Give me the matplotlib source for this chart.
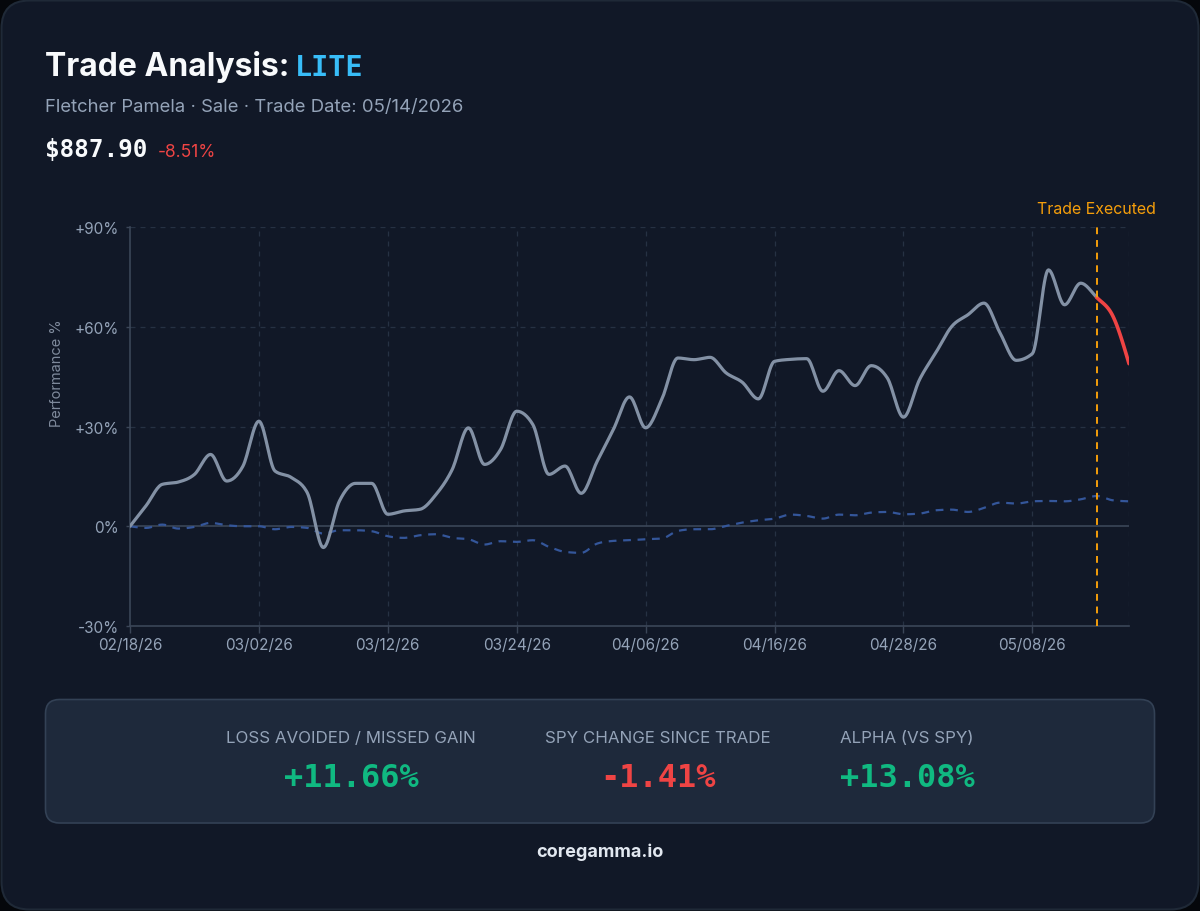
import numpy as np
import matplotlib.pyplot as plt
from matplotlib.patches import FancyBboxPatch

# trading-day index -> performance since 02/18/26 (%)
lite_pct = [0.0, 6.2, 12.6, 13.3, 15.6, 21.6, 13.6, 18.0, 31.6, 16.6,
            14.7, 10.1, -6.4, 7.6, 12.9, 12.9, 3.6, 4.6, 5.1, 9.6,
            17.1, 29.6, 18.6, 23.1, 34.6, 30.6, 15.6, 18.1, 9.9, 19.6,
            29.1, 38.9, 29.6, 38.1, 50.6, 50.1, 50.8, 46.1, 43.3, 38.3,
            49.6, 50.2, 50.4, 40.6, 46.8, 42.3, 48.3, 44.6, 32.8, 44.1,
            52.1, 60.1, 63.6, 67.1, 58.1, 49.9, 51.9, 77.1, 66.6, 73.1,
            68.8, 63.2, 48.9]
spy_pct = [0.0, -0.5, 0.5, -0.7, -0.2, 1.0, 0.3, 0.0, 0.0, -0.9,
           -0.2, -0.5, -2.2, -1.2, -1.2, -1.5, -3.0, -3.5, -2.7, -2.4,
           -3.5, -3.9, -5.5, -4.5, -4.7, -4.2, -6.2, -7.7, -8.0, -5.2,
           -4.4, -4.2, -3.9, -3.7, -1.4, -0.9, -0.9, 0.1, 1.1, 1.8,
           2.3, 3.5, 3.1, 2.3, 3.5, 3.3, 4.1, 4.3, 3.6, 3.8,
           4.8, 5.0, 4.3, 5.5, 7.1, 6.8, 7.5, 7.6, 7.5, 8.1,
           9.1, 7.8, 7.5]
tick_idx = [0, 8, 16, 24, 32, 40, 48, 56]
tick_labels = ['02/18/26', '03/02/26', '03/12/26', '03/24/26',
               '04/06/26', '04/16/26', '04/28/26', '05/08/26']
trade_idx = 60
y_ticks = [-30, 0, 30, 60, 90]
y_labels = ['-30%', '0%', '+30%', '+60%', '+90%']

stat_labels = ['LOSS AVOIDED / MISSED GAIN', 'SPY CHANGE SINCE TRADE', 'ALPHA (VS SPY)']
stat_values = ['+11.66%', '-1.41%', '+13.08%']
stat_colors = ['#10b981', '#ef4444', '#10b981']

BG = '#111827'
MUTED = '#94a3b8'
GRID = '#263143'
AXIS = '#3b4658'
MONO = 'DejaVu Sans Mono'
SANS = 'Inter'


def smooth(xs, ys, steps=16):
    # monotone cubic like d3 curveMonotoneX, used only to draw the path
    xs = np.asarray(xs, float)
    ys = np.asarray(ys, float)
    h = np.diff(xs)
    s = np.diff(ys) / h
    m = np.empty_like(ys)
    for k in range(1, len(ys) - 1):
        p = (s[k - 1] * h[k] + s[k] * h[k - 1]) / (h[k - 1] + h[k])
        m[k] = (np.sign(s[k - 1]) + np.sign(s[k])) * min(abs(s[k - 1]), abs(s[k]), 0.5 * abs(p))
    m[0] = (3 * s[0] - m[1]) / 2
    m[-1] = (3 * s[-1] - m[-2]) / 2
    px, py = [], []
    t = np.linspace(0, 1, steps, endpoint=False)
    h00 = 2 * t**3 - 3 * t**2 + 1
    h10 = t**3 - 2 * t**2 + t
    h01 = -2 * t**3 + 3 * t**2
    h11 = t**3 - t**2
    for k in range(len(xs) - 1):
        px.extend(xs[k] + t * h[k])
        py.extend(h00 * ys[k] + h10 * h[k] * m[k] + h01 * ys[k + 1] + h11 * h[k] * m[k + 1])
    px.append(xs[-1])
    py.append(ys[-1])
    return np.array(px), np.array(py)


fig = plt.figure(figsize=(12, 9.12), dpi=100, facecolor='#05070b')

# background layer in pixel coordinates
bg = fig.add_axes([0, 0, 1, 1], zorder=0)
bg.set_xlim(0, 1200)
bg.set_ylim(912, 0)
bg.axis('off')
bg.add_patch(FancyBboxPatch((1.5, 1.5), 1197, 909, boxstyle='round,pad=0,rounding_size=28',
                            fc=BG, ec='#1f2937', lw=1.5))
bg.add_patch(FancyBboxPatch((45.5, 700.5), 1109, 123.5, boxstyle='round,pad=0,rounding_size=14',
                            fc='#1e293b', ec='#334155', lw=1.2))

title = bg.text(45, 76, 'Trade Analysis:', family=SANS, weight='bold', size=23, color='#f8fafc',
                va='baseline')
renderer = fig.canvas.get_renderer()
title_end = title.get_window_extent(renderer).x1
bg.text(title_end + 5, 76, 'LITE', family=MONO, weight='bold', size=20.5, color='#38bdf8',
        va='baseline')
bg.text(45, 112, 'Fletcher Pamela · Sale · Trade Date: 05/14/2026', family=SANS, size=13.3,
        color=MUTED, va='baseline')
bg.text(45, 157, '$887.90', family=MONO, weight='bold', size=17.5, color='#f8fafc', va='baseline')
bg.text(158, 157, '-8.51%', family=SANS, size=12.5, color='#ef4444', va='baseline')

for cx, lab, val, col in zip([351, 658, 907], stat_labels, stat_values, stat_colors):
    bg.text(cx, 743, lab, family=SANS, size=12.2, color=MUTED, ha='center', va='baseline')
    bg.text(cx, 787, val, family=MONO, weight='bold', size=23, color=col, ha='center', va='baseline')

bg.text(600, 857, 'coregamma.io', family=SANS, weight='bold', size=13, color='#e2e8f0',
        ha='center', va='baseline')
bg.text(57, 373, 'Performance %', family=SANS, size=10.5, color='#7f8a9c', rotation=90,
        ha='center', va='center')

# chart
ax = fig.add_axes([130 / 1200, 1 - 627 / 912, 999 / 1200, 399 / 912], zorder=1)
ax.set_facecolor('none')
n = len(lite_pct)
idx = np.arange(n)
ax.set_xlim(0, n - 1)
ax.set_ylim(-30, 90)

for yv in [30, 60, 90]:
    ax.axhline(yv, color=GRID, lw=0.9, ls=(0, (4, 4)), zorder=1)
for xv in tick_idx[1:] + [n - 1]:
    ax.axvline(xv, color=GRID, lw=0.9, ls=(0, (4, 4)), zorder=1)
ax.axhline(0, color=AXIS, lw=1.2, zorder=2)

sx, sy = smooth(idx, lite_pct)
ax.plot(sx[sx <= trade_idx], sy[sx <= trade_idx], color='#8391a5', lw=2.3, zorder=4,
        solid_capstyle='round')
ax.plot(sx[sx >= trade_idx], sy[sx >= trade_idx], color='#ef4444', lw=2.6, zorder=5,
        solid_capstyle='round')
qx, qy = smooth(idx, spy_pct)
ax.plot(qx, qy, color='#34569a', lw=1.6, ls=(0, (3.5, 3)), zorder=3)

ax.axvline(trade_idx, color='#f59e0b', lw=1.4, ls=(0, (3.5, 3)), zorder=6)
ax.annotate('Trade Executed', xy=(trade_idx, 90), xytext=(0, 8), textcoords='offset points',
            ha='center', va='bottom', family=SANS, size=11.5, color='#f59e0b',
            annotation_clip=False)

for side in ['top', 'right']:
    ax.spines[side].set_visible(False)
for side in ['left', 'bottom']:
    ax.spines[side].set_color(AXIS)
    ax.spines[side].set_linewidth(1.2)

ax.set_xticks(tick_idx)
ax.set_xticklabels(tick_labels)
ax.set_yticks(y_ticks)
ax.set_yticklabels(y_labels)
ax.tick_params(axis='x', colors=AXIS, length=5, width=1, pad=3, labelsize=11, labelcolor=MUTED)
ax.tick_params(axis='y', colors=AXIS, length=3, width=1, pad=5, labelsize=11, labelcolor=MUTED)
for lab in ax.get_xticklabels() + ax.get_yticklabels():
    lab.set_family(SANS)

fig.savefig('out.png', dpi=100, facecolor=fig.get_facecolor())
